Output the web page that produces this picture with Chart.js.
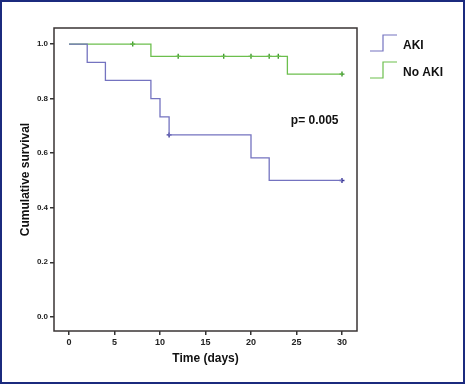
<!DOCTYPE html>
<html>
<head>
<meta charset="utf-8">
<script src="https://cdn.jsdelivr.net/npm/chart.js@4.4.1/dist/chart.umd.min.js"></script>
<style>
  html, body { margin: 0; padding: 0; background: #fff; }
  #wrap { width: 465px; height: 384px; position: relative; }
</style>
</head>
<body>
<div id="wrap"><canvas id="km"></canvas></div>
<script>
// Kaplan-Meier steps
const akiDays = [0, 2, 4, 9, 10, 11, 20, 22, 30];
const akiSurvival = [1.0, 0.933, 0.867, 0.8, 0.733, 0.667, 0.583, 0.5, 0.5];
const akiCensorDays = [11, 30];
const akiCensorSurvival = [0.667, 0.5];

const noAkiDays = [0, 9, 24, 30];
const noAkiSurvival = [1.0, 0.955, 0.89, 0.89];
const noAkiCensorDays = [7, 12, 17, 20, 22, 23, 30];
const noAkiCensorSurvival = [1.0, 0.955, 0.955, 0.955, 0.955, 0.955, 0.89];

const xTicks = [0, 5, 10, 15, 20, 25, 30];
const yTicks = [0, 0.2, 0.4, 0.6, 0.8, 1.0];
const groupLabels = ['AKI', 'No AKI'];
const pValueText = 'p= 0.005';

const blue = '#7473c0';
const green = '#6cbf4d';

const toPoints = (xs, ys) => xs.map((x, i) => ({ x: x, y: ys[i] }));

// frame, outer border, step-shaped legend and p value
const decorations = {
  id: 'decorations',
  afterDraw(chart) {
    const ctx = chart.ctx;
    const a = chart.chartArea;
    ctx.save();
    ctx.strokeStyle = '#3a3434';
    ctx.lineWidth = 1.5;
    ctx.strokeRect(a.left, a.top, a.right - a.left, a.bottom - a.top);

    ctx.strokeStyle = '#1b2a7e';
    ctx.lineWidth = 2;
    ctx.strokeRect(1, 1, chart.width - 2, chart.height - 2);

    ctx.lineWidth = 1.2;
    ctx.font = 'bold 12px "Liberation Sans", Arial, sans-serif';
    ctx.textBaseline = 'middle';
    groupLabels.forEach((label, i) => {
      const top = 35 + i * 27;
      const bottom = top + 16;
      ctx.strokeStyle = chart.data.datasets[i].borderColor;
      ctx.beginPath();
      ctx.moveTo(370, bottom);
      ctx.lineTo(383, bottom);
      ctx.lineTo(383, top);
      ctx.lineTo(397, top);
      ctx.stroke();
      ctx.fillStyle = '#111';
      ctx.fillText(label, 403, top + 11);
    });

    const sx = chart.scales.x, sy = chart.scales.y;
    ctx.textAlign = 'center';
    ctx.fillText(pValueText, sx.getPixelForValue(27), sy.getPixelForValue(0.718));
    ctx.restore();
  }
};

new Chart(document.getElementById('km'), {
  type: 'scatter',
  data: {
    datasets: [
      {
        label: groupLabels[0],
        data: toPoints(akiDays, akiSurvival),
        showLine: true,
        stepped: true,
        borderColor: blue,
        borderWidth: 1.3,
        pointRadius: 0
      },
      {
        label: groupLabels[1],
        data: toPoints(noAkiDays, noAkiSurvival),
        showLine: true,
        stepped: true,
        borderColor: green,
        borderWidth: 1.3,
        pointRadius: 0
      },
      {
        label: groupLabels[0] + ' censored',
        data: toPoints(akiCensorDays, akiCensorSurvival),
        showLine: false,
        pointStyle: 'cross',
        pointRadius: 2.5,
        borderColor: '#3d3a9a',
        borderWidth: 1.4
      },
      {
        label: groupLabels[1] + ' censored',
        data: toPoints(noAkiCensorDays, noAkiCensorSurvival),
        showLine: false,
        pointStyle: 'cross',
        pointRadius: 2.5,
        borderColor: '#3f9a2c',
        borderWidth: 1.4
      }
    ]
  },
  options: {
    responsive: true,
    maintainAspectRatio: false,
    animation: false,
    layout: { padding: { left: 0, right: 108, top: 28, bottom: 0 } },
    plugins: {
      legend: { display: false },
      tooltip: { enabled: false }
    },
    scales: {
      x: {
        type: 'linear',
        min: -1.65,
        max: 31.65,
        afterBuildTicks: (scale) => { scale.ticks = xTicks.map(v => ({ value: v })); },
        afterFit: (scale) => { scale.height = 53; },
        grid: { drawOnChartArea: false, drawTicks: true, tickLength: 4, color: '#333', lineWidth: 1.5 },
        border: { display: false },
        ticks: {
          padding: 2,
          color: '#222',
          font: { family: '"Liberation Sans", Arial, sans-serif', size: 9, weight: 'bold' },
          callback: (v) => String(v)
        },
        title: {
          display: true,
          text: 'Time (days)',
          color: '#111',
          font: { family: '"Liberation Sans", Arial, sans-serif', size: 12, weight: 'bold' },
          padding: { top: 0, bottom: 18 }
        }
      },
      y: {
        type: 'linear',
        min: -0.052,
        max: 1.059,
        afterBuildTicks: (scale) => { scale.ticks = yTicks.map(v => ({ value: v })); },
        afterFit: (scale) => { scale.width = 54; },
        grid: { drawOnChartArea: false, drawTicks: true, tickLength: 4, color: '#333', lineWidth: 1.5 },
        border: { display: false },
        ticks: {
          padding: 2,
          color: '#222',
          font: { family: '"Liberation Sans", Arial, sans-serif', size: 8, weight: 'bold' },
          callback: (v) => v.toFixed(1)
        },
        title: {
          display: true,
          text: 'Cumulative survival',
          color: '#111',
          font: { family: '"Liberation Sans", Arial, sans-serif', size: 12, weight: 'bold' },
          padding: { top: 18, bottom: 0 }
        }
      }
    }
  },
  plugins: [decorations]
});
</script>
</body>
</html>
